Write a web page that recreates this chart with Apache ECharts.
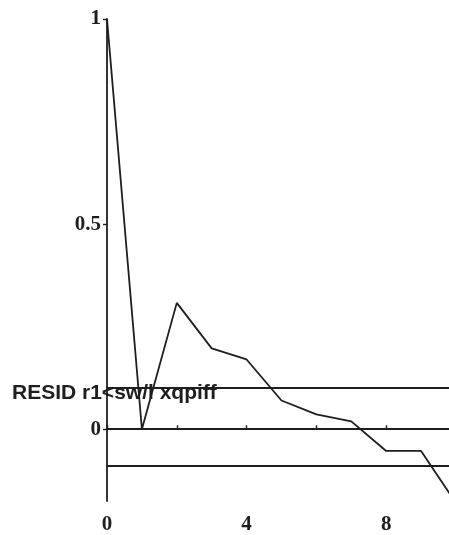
<!DOCTYPE html>
<html>
<head>
<meta charset="utf-8">
<script src="https://cdn.jsdelivr.net/npm/echarts@6/dist/echarts.min.js"></script>
<style>
  html, body { margin: 0; padding: 0; background: #fff; }
  #chart { width: 449px; height: 535px; }
</style>
</head>
<body>
<div id="chart"></div>
<script>
// Residual autocorrelation by lag
const lags = [0, 1, 2, 3, 4, 5, 6, 7, 8, 9, 10];
const acf = [1.0, 0.0, 0.308, 0.197, 0.17, 0.07, 0.036, 0.019, -0.053, -0.053, -0.18];
// Confidence band and zero reference
const bandLevels = [0.098, 0, -0.094];
const yTickValues = [0, 0.5, 1];
const xTickValues = [0, 2, 4, 6, 8];
const xLabelValues = [0, 4, 8];
const seriesTitle = 'RESID r1<sw/l xqpiff';

const ink = '#1e1e1e';
const serif = '"Liberation Serif", "DejaVu Serif", serif';

const chart = echarts.init(document.getElementById('chart'));
chart.setOption({
  animation: false,
  backgroundColor: '#fff',
  grid: { left: 107, top: 19, bottom: 32, right: 0, containLabel: false },
  xAxis: {
    type: 'value',
    min: 0,
    max: 9.8,
    axisLine: { show: true, lineStyle: { color: ink, width: 1.8 } },
    axisTick: { show: true, inside: true, length: 4, customValues: xTickValues, lineStyle: { color: ink, width: 1.4 } },
    axisLabel: {
      customValues: xLabelValues,
      margin: 13,
      color: ink,
      fontFamily: serif,
      fontWeight: 'bold',
      fontSize: 21
    },
    splitLine: { show: false }
  },
  yAxis: {
    type: 'value',
    min: -0.175,
    max: 1,
    axisLine: { show: true, onZero: false, lineStyle: { color: ink, width: 1.8 } },
    axisTick: { show: true, inside: false, length: 4, customValues: yTickValues, lineStyle: { color: ink, width: 1.4 } },
    axisLabel: {
      customValues: yTickValues,
      margin: 6,
      color: ink,
      fontFamily: serif,
      fontWeight: 'bold',
      fontSize: 21,
      formatter: v => String(v)
    },
    splitLine: { show: false }
  },
  series: [{
    type: 'line',
    data: lags.map((x, i) => [x, acf[i]]),
    symbol: 'none',
    clip: true,
    lineStyle: { color: ink, width: 1.8 },
    markLine: {
      silent: true,
      symbol: ['none', 'none'],
      label: { show: false },
      lineStyle: { color: ink, width: 1.8, type: 'solid' },
      data: bandLevels.map(v => ({ yAxis: v }))
    }
  }],
  graphic: [{
    type: 'text',
    left: 12,
    top: 383,
    style: {
      text: seriesTitle,
      fill: ink,
      fontFamily: '"Liberation Sans", Arial, sans-serif',
      fontWeight: 'bold',
      fontSize: 21
    }
  }]
});
</script>
</body>
</html>
